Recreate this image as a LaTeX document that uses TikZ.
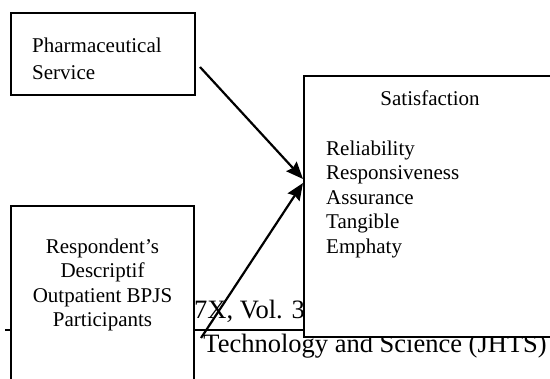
\documentclass[tikz,border=0pt]{standalone}
\usepackage{fontspec}
\setmainfont{Liberation Serif}
\usetikzlibrary{arrows.meta}

\begin{document}
\begin{tikzpicture}[x=1pt, y=-1pt]

\def\width{550}
\def\height{379}

\tikzset{
	box/.style={draw, fill=white, line width=1.6pt, inner sep=0pt},
	txt/.style={inner sep=0pt},
	header/.style={inner sep=0pt, font=\fontsize{26.5}{30}\selectfont},
	link/.style={line width=2.2pt, -{Stealth[length=17pt, width=14pt, inset=2pt]}}
}

\fontsize{21}{24.5}\selectfont
\path [use as bounding box] (0,0) rectangle (\width,\height);

% HEADER
\coordinate (hl) at (5,330);
\coordinate (hr) at (320,330);
\draw [line width=1.5pt] (hl) -- (hr);
\node [header, anchor=base west] (vol) at (194,319) {7X, Vol. 3};
\node [header, anchor=base west] (journal) at (190,353) {, Technology and Science (JHTS)};

% BOXES
\node [box, minimum width=184pt, minimum height=82pt] (pharm) at (103,54) {};
\node [box, minimum width=183pt, minimum height=184pt] (resp) at (102.5,298) {};
\node [box, minimum width=252pt, minimum height=261pt] (sat) at (430,206.5) {};

% TEXT
\node [txt, anchor=north west, align=left, font=\fontsize{21}{27}\selectfont] (pharmtxt) at (32,37.7) {Pharmaceutical\\Service};
\node [txt, anchor=north, align=center] (resptxt) at (102.5,238.7) {Respondent’s\\Descriptif\\Outpatient BPJS\\Participants};
\node [txt, anchor=base] (sattitle) at (430,106) {Satisfaction};
\node [txt, anchor=north west, align=left] (satlist) at (326,140.7) {Reliability\\Responsiveness\\Assurance\\Tangible\\Emphaty};

% ARROWS
\coordinate (from1) at (200,67);
\coordinate (to1) at (303,179);
\coordinate (from2) at (201,338);
\coordinate (to2) at (303,183);
\draw [link] (from1) -- (to1);
\draw [link] (from2) -- (to2);

\end{tikzpicture}
\end{document}
